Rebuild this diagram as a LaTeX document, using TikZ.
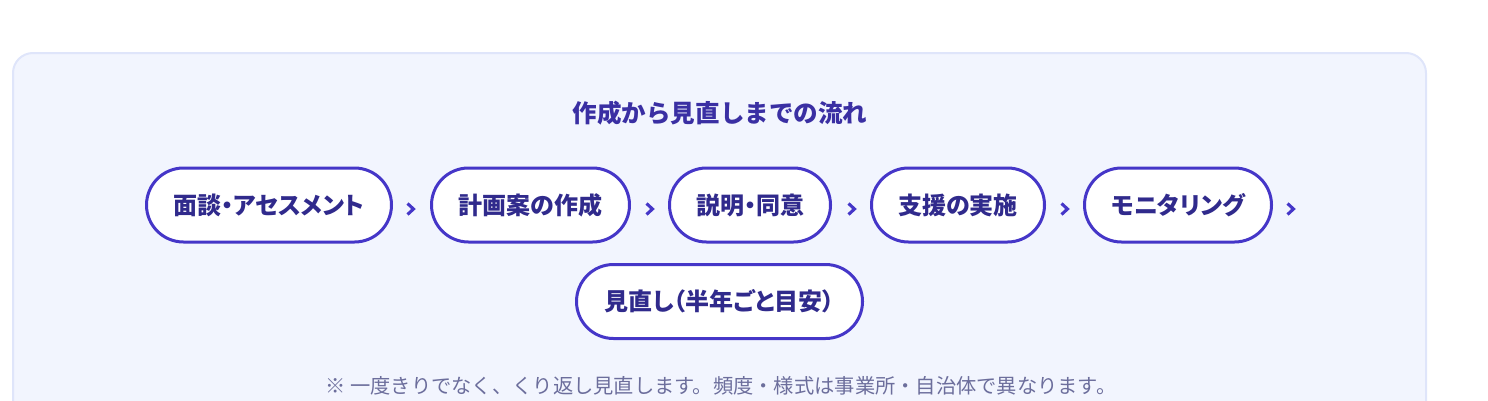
\documentclass[tikz,border=0pt]{standalone}
\usepackage{fontspec}
\setmainfont{Noto Sans CJK JP}
\newfontfamily\jpp{Noto Sans CJK JP}[RawFeature=+palt]
\definecolor{panelfill}{HTML}{F2F5FE}
\definecolor{panelline}{HTML}{DFE5FA}
\definecolor{pillline}{HTML}{4536C8}
\definecolor{pilltext}{HTML}{302A8C}
\definecolor{titletext}{HTML}{3A2FA3}
\definecolor{notetext}{HTML}{6C6E9C}
\begin{document}
\begin{tikzpicture}[x=0.75pt,y=-0.75pt,
  pill/.style={draw=pillline,line width=2.25pt,fill=white,rounded corners=27.75pt,
    minimum height=74*0.75pt,inner sep=0pt,text=pilltext,
    font=\jpp\bfseries\fontsize{18}{20}\selectfont},
  chev/.style={draw=pillline,line width=2.3pt,line join=miter,line cap=butt},
  title/.style={text=titletext,inner sep=0pt,font=\bfseries\fontsize{18.4}{20}\selectfont},
  note/.style={text=notetext,inner sep=0pt,font=\fontsize{15.2}{17}\selectfont}]
\useasboundingbox (0,0) rectangle (1488,400);
\begin{scope}
\clip (0,0) rectangle (1488,400);
\draw[panelline,fill=panelfill,line width=1.5pt,rounded corners=15pt] (13,53) rectangle (1426,440);
\end{scope}
\node[title] (title) at (720,113) {作成から見直しまでの流れ};
\node[pill,minimum width=245*0.75pt] (p1) at (269,205) {面談・アセスメント};
\node[pill,minimum width=198*0.75pt] (p2) at (530.5,205) {計画案の作成};
\node[pill,minimum width=161*0.75pt] (p3) at (750,205) {説明・同意};
\node[pill,minimum width=173*0.75pt] (p4) at (958,205) {支援の実施};
\node[pill,minimum width=187*0.75pt] (p5) at (1178,205) {モニタリング};
\node[pill,minimum width=286*0.75pt] (p6) at (719.5,301.5) {見直し（半年ごと目安）};
\coordinate (s1) at (411,209);
\coordinate (s2) at (650,209);
\coordinate (s3) at (852,209);
\coordinate (s4) at (1065,209);
\coordinate (s5) at (1291,209);
\foreach \s in {s1,s2,s3,s4,s5}
  \draw[chev] ([shift={(-3.5,-5.5)}]\s) -- ([shift={(2.5,0)}]\s) -- ([shift={(-3.5,5.5)}]\s);
\node[note] (note) at (721,386) {※ 一度きりでなく、くり返し見直します。頻度・様式は事業所・自治体で異なります。};
\end{tikzpicture}
\end{document}
